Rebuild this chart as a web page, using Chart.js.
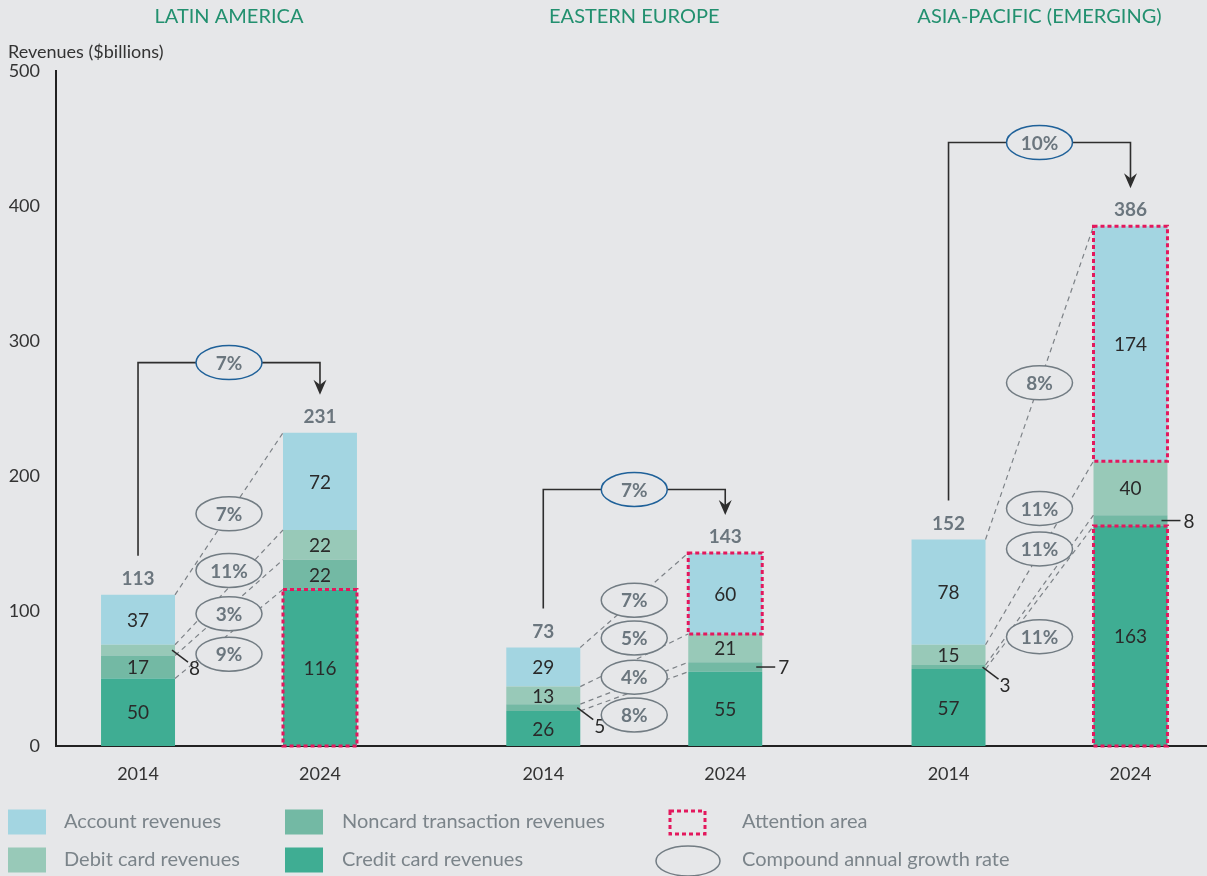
<!DOCTYPE html>
<html>
<head>
<meta charset="utf-8">
<script src="https://cdn.jsdelivr.net/npm/chart.js@4"></script>
<style>
  html, body { margin: 0; padding: 0; background: #e6e7e9; overflow: hidden; }
</style>
</head>
<body>
<canvas id="revenueChart" width="1207" height="876"></canvas>
<script>
// ---- data ----
const regions = ['LATIN AMERICA', 'EASTERN EUROPE', 'ASIA-PACIFIC (EMERGING)'];
const regionIdx = [0, 1, 2];
const years = ['2014', '2024'];

const credit2014 = [50, 26, 57];
const noncard2014 = [17, 5, 3];
const debit2014 = [8, 13, 15];
const account2014 = [37, 29, 78];

const credit2024 = [116, 55, 163];
const noncard2024 = [22, 7, 8];
const debit2024 = [22, 21, 40];
const account2024 = [72, 60, 174];

const total2014 = [113, 73, 152];
const total2024 = [231, 143, 386];

const cagrTotal = ['7%', '7%', '10%'];
// per segment, bottom to top: credit, noncard, debit, account
const cagrCredit = ['9%', '8%', '11%'];
const cagrNoncard = ['3%', '4%', '11%'];
const cagrDebit = ['11%', '5%', '11%'];
const cagrAccount = ['7%', '7%', '8%'];

// attention area boxes on the 2024 bars
const attentionCredit = [true, false, true];
const attentionAccount = [false, true, true];

// where the growth labels sit (value units on the y axis)
const cagrLabelAt = [
    [68, 98, 130, 172],
    [23, 51, 80, 108],
    [81, 146, 176, 269]
];
const bracketLevel = [284, 190, 447];

const BG = '#e6e7e9';
const FONT = 'Lato, "Open Sans", sans-serif';

const segments = [
    { label: 'Credit card revenues', color: '#3fad93', values: [credit2014, credit2024], cagr: cagrCredit },
    { label: 'Noncard transaction revenues', color: '#73b9a4', values: [noncard2014, noncard2024], cagr: cagrNoncard },
    { label: 'Debit card revenues', color: '#98c9b8', values: [debit2014, debit2024], cagr: cagrDebit },
    { label: 'Account revenues', color: '#a3d5e1', values: [account2014, account2024], cagr: cagrAccount }
];

const datasets = [];
years.forEach((yr, yi) => {
    segments.forEach(seg => {
        datasets.push({
            label: seg.label + ' ' + yr,
            stack: yr,
            data: regionIdx.map(i => ({ x: i, y: seg.values[yi][i] })),
            backgroundColor: seg.color,
            categoryPercentage: 0.898,
            barPercentage: 0.4066
        });
    });
});

function ellipse(ctx, cx, cy, rx, ry, stroke, text) {
    ctx.save();
    ctx.beginPath();
    ctx.ellipse(cx, cy, rx, ry, 0, 0, Math.PI * 2);
    ctx.fillStyle = BG;
    ctx.fill();
    ctx.lineWidth = 1.5;
    ctx.strokeStyle = stroke;
    ctx.stroke();
    if (text) {
        ctx.fillStyle = '#6b767e';
        ctx.font = 'bold 19px ' + FONT;
        ctx.textAlign = 'center';
        ctx.textBaseline = 'middle';
        ctx.fillText(text, cx, cy + 1);
    }
    ctx.restore();
}

const annotations = {
    id: 'annotations',
    afterDatasetsDraw(chart) {
        const ctx = chart.ctx;
        const yScale = chart.scales.y;
        const bar = (yi, si, i) => chart.getDatasetMeta(yi * 4 + si).data[i];

        ctx.save();
        regionIdx.forEach(i => {
            const top14 = bar(0, 3, i), top24 = bar(1, 3, i);
            const half = top14.width / 2;

            // dashed connectors between segment tops
            ctx.save();
            ctx.setLineDash([5, 4]);
            ctx.strokeStyle = '#7d8287';
            ctx.lineWidth = 1.2;
            segments.forEach((seg, si) => {
                const a = bar(0, si, i), b = bar(1, si, i);
                ctx.beginPath();
                ctx.moveTo(a.x + half, a.y);
                ctx.lineTo(b.x - half, b.y);
                ctx.stroke();
            });
            ctx.restore();

            // segment values
            ctx.font = '19px ' + FONT;
            ctx.fillStyle = '#2a2a2a';
            ctx.textBaseline = 'middle';
            years.forEach((yr, yi) => {
                segments.forEach((seg, si) => {
                    const el = bar(yi, si, i);
                    const v = seg.values[yi][i];
                    const mid = (el.y + el.base) / 2;
                    const h = el.base - el.y;
                    if (h >= 16) {
                        ctx.textAlign = 'center';
                        ctx.fillText(String(v), el.x, mid + 1);
                    } else {
                        const right = el.x + el.width / 2;
                        ctx.strokeStyle = '#2a2a2a';
                        ctx.lineWidth = 1.5;
                        ctx.beginPath();
                        ctx.textAlign = 'left';
                        if (yi === 0) {
                            ctx.moveTo(right - 3, mid);
                            ctx.lineTo(right + 13, mid + 12);
                            ctx.stroke();
                            ctx.fillText(String(v), right + 14, mid + 19);
                        } else {
                            ctx.moveTo(right - 6, mid);
                            ctx.lineTo(right + 13, mid);
                            ctx.stroke();
                            ctx.fillText(String(v), right + 16, mid + 1);
                        }
                    }
                });
            });

            // attention boxes
            ctx.save();
            ctx.setLineDash([4, 3]);
            ctx.strokeStyle = '#e3185d';
            ctx.lineWidth = 3;
            if (attentionCredit[i]) {
                const el = bar(1, 0, i);
                ctx.strokeRect(el.x - half, el.y, el.width, el.base - el.y);
            }
            if (attentionAccount[i]) {
                const el = bar(1, 3, i);
                ctx.strokeRect(el.x - half, el.y, el.width, el.base - el.y);
            }
            ctx.restore();

            // segment growth ellipses
            const midX = (top14.x + top24.x) / 2;
            segments.forEach((seg, si) => {
                ellipse(ctx, midX, yScale.getPixelForValue(cagrLabelAt[i][si]), 33, 17, '#727c83', seg.cagr[i]);
            });

            // totals
            ctx.font = 'bold 19px ' + FONT;
            ctx.fillStyle = '#6b767e';
            ctx.textAlign = 'center';
            ctx.textBaseline = 'middle';
            ctx.fillText(String(total2014[i]), top14.x, top14.y - 16);
            ctx.fillText(String(total2024[i]), top24.x, top24.y - 16);

            // overall growth bracket with arrow
            const lvl = yScale.getPixelForValue(bracketLevel[i]);
            const tip = top24.y - 38;
            ctx.strokeStyle = '#2e2e2e';
            ctx.lineWidth = 1.6;
            ctx.beginPath();
            ctx.moveTo(top14.x, top14.y - 39);
            ctx.lineTo(top14.x, lvl);
            ctx.lineTo(top24.x, lvl);
            ctx.lineTo(top24.x, tip - 6);
            ctx.stroke();
            ctx.fillStyle = '#2e2e2e';
            ctx.beginPath();
            ctx.moveTo(top24.x, tip);
            ctx.lineTo(top24.x - 6.5, tip - 15);
            ctx.lineTo(top24.x, tip - 10);
            ctx.lineTo(top24.x + 6.5, tip - 15);
            ctx.closePath();
            ctx.fill();
            ellipse(ctx, midX, lvl, 33, 17, '#1f6199', cagrTotal[i]);

            // region titles and year labels
            ctx.font = '20px ' + FONT;
            ctx.fillStyle = '#22906f';
            ctx.textAlign = 'center';
            ctx.fillText(regions[i], midX, 17);
            ctx.font = '18px ' + FONT;
            ctx.fillStyle = '#333';
            ctx.fillText(years[0], top14.x, 774);
            ctx.fillText(years[1], top24.x, 774);
        });

        // axis title
        ctx.font = '18px ' + FONT;
        ctx.fillStyle = '#333';
        ctx.textAlign = 'left';
        ctx.textBaseline = 'middle';
        ctx.fillText('Revenues ($billions)', 8, 52);

        // legend
        const legendRows = [
            [{ kind: 'box', color: segments[3].color, text: 'Account revenues' },
             { kind: 'box', color: segments[1].color, text: 'Noncard transaction revenues' },
             { kind: 'attention', text: 'Attention area' }],
            [{ kind: 'box', color: segments[2].color, text: 'Debit card revenues' },
             { kind: 'box', color: segments[0].color, text: 'Credit card revenues' },
             { kind: 'ellipse', text: 'Compound annual growth rate' }]
        ];
        const colX = [8, 285, 669];
        const textX = [64, 342, 742];
        const rowY = [822, 860];
        legendRows.forEach((row, r) => {
            row.forEach((item, c) => {
                const cy = rowY[r];
                if (item.kind === 'box') {
                    ctx.fillStyle = item.color;
                    ctx.fillRect(colX[c], cy - 12.5, 38, 25);
                } else if (item.kind === 'attention') {
                    ctx.save();
                    ctx.setLineDash([4, 3]);
                    ctx.strokeStyle = '#e3185d';
                    ctx.lineWidth = 3;
                    ctx.strokeRect(colX[c] + 1, cy - 11, 35, 23);
                    ctx.restore();
                } else {
                    ellipse(ctx, colX[c] + 19, cy + 1, 32, 15, '#727c83', '');
                }
                ctx.font = '20px ' + FONT;
                ctx.fillStyle = '#7b848a';
                ctx.textAlign = 'left';
                ctx.textBaseline = 'middle';
                ctx.fillText(item.text, textX[c], cy);
            });
        });
        ctx.restore();
    }
};

new Chart(document.getElementById('revenueChart'), {
    type: 'bar',
    data: { datasets },
    options: {
        responsive: false,
        animation: false,
        layout: { padding: { left: 8, top: 71, right: 0, bottom: 130 } },
        plugins: {
            legend: { display: false },
            tooltip: { enabled: false }
        },
        scales: {
            x: {
                type: 'linear',
                offset: false,
                min: -0.4269,
                max: 2.4133,
                grid: { display: false, drawTicks: false, offset: false },
                ticks: { display: false, stepSize: 1, includeBounds: false },
                border: { color: '#222', width: 2 }
            },
            y: {
                stacked: true,
                min: 0,
                max: 500,
                ticks: { stepSize: 100, padding: 16, color: '#333', font: { family: FONT, size: 18 } },
                grid: { display: false, drawTicks: false },
                border: { color: '#222', width: 2 },
                afterFit: s => { s.width = 48; }
            }
        }
    },
    plugins: [annotations]
});
</script>
</body>
</html>
